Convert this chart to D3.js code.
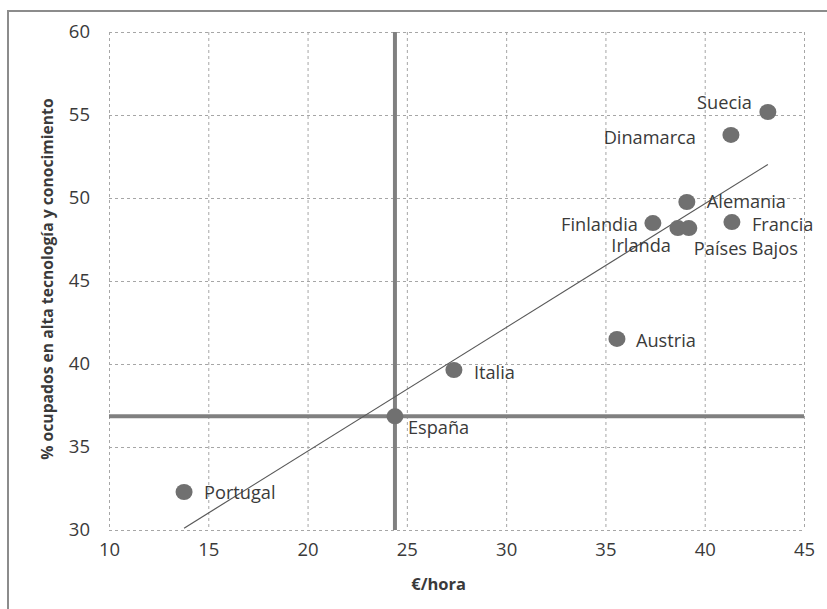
<!DOCTYPE html>
<html>
<head>
  <meta charset="UTF-8">
  <script src="https://d3js.org/d3.v7.min.js"></script>
  <style>
    body { margin: 0; background: #fff; }
    text { font-family: "Open Sans", sans-serif; fill: #3a3a3a; }
  </style>
</head>
<body>
  <svg height="609" width="827" id="scatter"></svg>

  <script>
    // data
    let countries = ["Portugal", "España", "Italia", "Austria", "Finlandia", "Irlanda",
                     "Países Bajos", "Alemania", "Francia", "Dinamarca", "Suecia"];
    let euroHora = [13.78, 24.4, 27.37, 35.58, 37.39, 38.65, 39.2, 39.1, 41.37, 41.32, 43.18];
    let pctAltaTec = [32.29, 36.85, 39.64, 41.51, 48.49, 48.19, 48.19, 49.76, 48.55, 53.8, 55.18];
    let xTicks = [10, 15, 20, 25, 30, 35, 40, 45];
    let yTicks = [30, 35, 40, 45, 50, 55, 60];
    let reference = "España";

    // label placement (pixels from the point)
    let labelPos = {
      "Portugal": [20, 0, "start"],
      "España": [13, 11, "start"],
      "Italia": [20, 2, "start"],
      "Austria": [19, 1, "start"],
      "Finlandia": [-15, 1, "end"],
      "Irlanda": [-7, 17, "end"],
      "Países Bajos": [5, 20, "start"],
      "Alemania": [20, -1, "start"],
      "Francia": [20, 2, "start"],
      "Dinamarca": [-35, 2, "end"],
      "Suecia": [-16, -10, "end"]
    };

    let data = countries.map((c, i) => ({ name: c, x: euroHora[i], y: pctAltaTec[i] }));

    let margin = { top: 32, right: 23, bottom: 79, left: 109 };
    let svg = d3.select("svg");
    let width = +svg.attr("width") - margin.left - margin.right;
    let height = +svg.attr("height") - margin.top - margin.bottom;

    // outer frame (only top and left edges show)
    svg.append("path")
      .attr("d", "M 8 609 V 11 H 827")
      .attr("fill", "none")
      .attr("stroke", "#8c8c8c")
      .attr("stroke-width", 2);

    let xScale = d3.scaleLinear().domain([10, 45]).range([0, width]);
    let yScale = d3.scaleLinear().domain([30, 60]).range([height, 0]);

    let chart = svg.append("g")
      .attr("transform", `translate(${margin.left}, ${margin.top})`);

    // dashed grid
    chart.append("g")
      .call(d3.axisBottom(xScale).tickValues(xTicks).tickSize(height).tickFormat(""))
      .call(g => g.select(".domain").remove())
      .selectAll("line")
      .attr("stroke", "#a6a6a6")
      .attr("stroke-dasharray", "3,3");

    chart.append("g")
      .call(d3.axisRight(yScale).tickValues(yTicks).tickSize(width).tickFormat(""))
      .call(g => g.select(".domain").remove())
      .selectAll("line")
      .attr("stroke", "#a6a6a6")
      .attr("stroke-dasharray", "3,3");

    // tick labels
    let xAxis = chart.append("g")
      .attr("transform", `translate(0, ${height})`)
      .call(d3.axisBottom(xScale).tickValues(xTicks).tickSize(0).tickPadding(13));
    xAxis.select(".domain").remove();

    let yAxis = chart.append("g")
      .call(d3.axisLeft(yScale).tickValues(yTicks).tickSize(0).tickPadding(19));
    yAxis.select(".domain").remove();

    chart.selectAll(".tick text")
      .attr("font-family", "Open Sans, sans-serif")
      .attr("font-size", "18.5px")
      .attr("fill", "#3a3a3a");

    // reference lines through España
    let ref = data.find(d => d.name === reference);
    chart.append("line")
      .attr("x1", xScale(ref.x)).attr("x2", xScale(ref.x))
      .attr("y1", 0).attr("y2", height)
      .attr("stroke", "#808080").attr("stroke-width", 4);
    chart.append("line")
      .attr("x1", 0).attr("x2", width)
      .attr("y1", yScale(ref.y)).attr("y2", yScale(ref.y))
      .attr("stroke", "#808080").attr("stroke-width", 4);

    // linear trend (least squares)
    let mx = d3.mean(data, d => d.x), my = d3.mean(data, d => d.y);
    let slope = d3.sum(data, d => (d.x - mx) * (d.y - my)) / d3.sum(data, d => (d.x - mx) ** 2);
    let icpt = my - slope * mx;
    let [x0, x1] = d3.extent(data, d => d.x);
    chart.append("line")
      .attr("x1", xScale(x0)).attr("y1", yScale(icpt + slope * x0))
      .attr("x2", xScale(x1)).attr("y2", yScale(icpt + slope * x1))
      .attr("stroke", "#595959").attr("stroke-width", 1.2);

    // points
    chart.selectAll(".dot")
      .data(data)
      .enter()
      .append("ellipse")
      .attr("class", "dot")
      .attr("cx", d => xScale(d.x))
      .attr("cy", d => yScale(d.y))
      .attr("rx", 8.5)
      .attr("ry", 8)
      .attr("fill", "#707070");

    // labels
    chart.selectAll(".lbl")
      .data(data)
      .enter()
      .append("text")
      .attr("class", "lbl")
      .attr("x", d => xScale(d.x) + labelPos[d.name][0])
      .attr("y", d => yScale(d.y) + labelPos[d.name][1])
      .attr("text-anchor", d => labelPos[d.name][2])
      .attr("dominant-baseline", "central")
      .attr("font-size", "18.2px")
      .text(d => d.name);

    // axis titles
    svg.append("text")
      .attr("transform", `translate(47, ${margin.top + height / 2 - 2}) rotate(-90)`)
      .attr("text-anchor", "middle")
      .attr("dominant-baseline", "central")
      .attr("font-size", "15.7px")
      .attr("font-weight", "bold")
      .text("% ocupados en alta tecnología y conocimiento");

    svg.append("text")
      .attr("x", margin.left + xScale(26.6))
      .attr("y", 583)
      .attr("text-anchor", "middle")
      .attr("dominant-baseline", "central")
      .attr("font-size", "16.5px")
      .attr("font-weight", "bold")
      .text("€/hora");
  </script>
</body>
</html>
